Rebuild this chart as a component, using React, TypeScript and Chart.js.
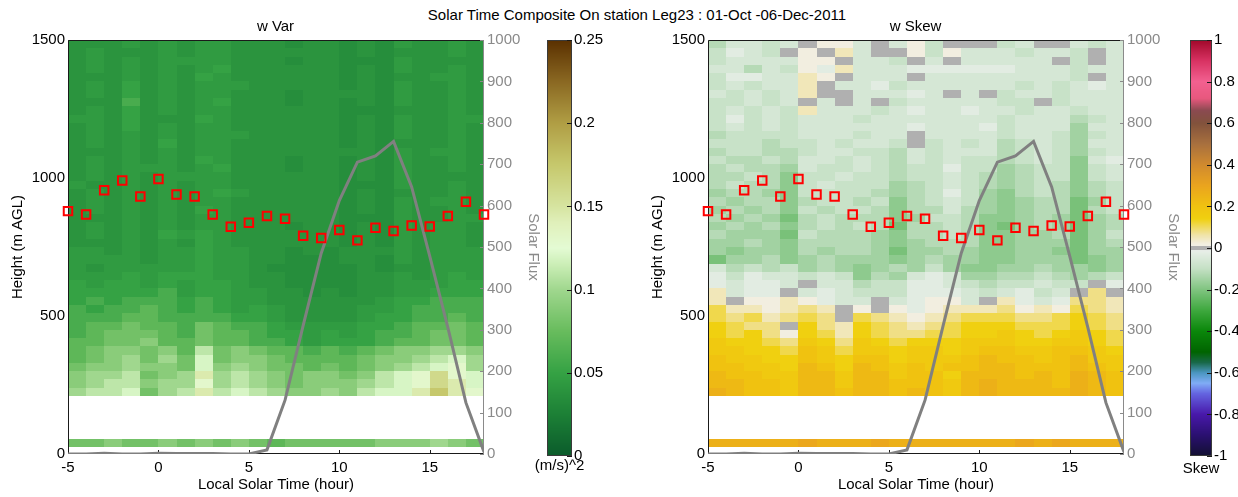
import React, { useEffect, useRef } from 'react';
import { Chart, registerables } from 'chart.js';

Chart.register(...registerables);

// ---------------- data ----------------
const hours = [-5, -4, -3, -2, -1, 0, 1, 2, 3, 4, 5, 6, 7, 8, 9, 10, 11, 12, 13, 14, 15, 16, 17, 18];
const solarFlux = [0, 0, 2, 0, 0, 2, 1, 1, 1, 0, 0, 10, 130, 310, 485, 612, 705, 720, 755, 645, 478, 306, 124, 5];
const mixingHeight = [880, 868, 956, 991, 933, 996, 940, 933, 868, 823, 838, 862, 852, 791, 783, 812, 774, 820, 808, 828, 824, 862, 914, 868];

const heightEdges = [210, 240, 270, 300, 330, 360, 390, 420, 450, 480, 510, 540, 570, 600, 630, 660, 690, 720, 750, 780, 810, 840, 870, 900, 930, 960, 990, 1020, 1050, 1080, 1110, 1140, 1170, 1200, 1230, 1260, 1290, 1320, 1350, 1380, 1410, 1440, 1470, 1500];
const surfaceBand = [25, 53];

const xTicks = [-5, 0, 5, 10, 15];
const heightTicks = [0, 500, 1000, 1500];
const fluxTicks = [0, 100, 200, 300, 400, 500, 600, 700, 800, 900, 1000];
const varTicks = [0, 0.05, 0.1, 0.15, 0.2, 0.25];
const skewTicks = [-1, -0.8, -0.6, -0.4, -0.2, 0, 0.2, 0.4, 0.6, 0.8, 1];

// w variance, (m/s)^2 : one character per cell, codes below
const wVarCodes: Record<string, number> = {
  '0': 0.030, '1': 0.035, '2': 0.040, '3': 0.045, '4': 0.050, '5': 0.060, '6': 0.070, '7': 0.080,
  '8': 0.090, '9': 0.100, a: 0.110, b: 0.120, c: 0.130, d: 0.145, e: 0.160, f: 0.175,
};
// rows listed from the top (1470-1500 m) down to the lowest gate (210-240 m)
const wVarRows = [
  '22232323322212212132232',
  '23222323322222212122232',
  '23232333322212211132222',
  '23232323422222212132232',
  '22232324322222212122332',
  '23242323332222212132232',
  '23242323322212222132232',
  '22252323422212212132232',
  '23242323322222211122232',
  '33242224322222212132233',
  '23242323322222212132232',
  '23232323332222212132232',
  '23232423322222212122232',
  '22232323322222222132332',
  '23232324322212212132232',
  '23233323422212212132232',
  '23232333322222212132222',
  '32232323322222211132232',
  '23232323432222212122232',
  '23232323322222212132332',
  '23232324322222212132232',
  '22232323322222211132233',
  '23232323322212212132332',
  '23232434322222212132332',
  '22232324322222212132332',
  '33232334332212122232333',
  '33332334332211122132333',
  '32333334332111112122333',
  '33343444332211112232343',
  '43443434432211112233344',
  '44444534433221212233444',
  '45455545433222222344555',
  '54556545434322223345555',
  '55566555544322223445565',
  '56676657655433334456676',
  '56777657665443434556776',
  '66778667665543444566776',
  '6788786a787665656788998',
  '6789797b788766667889ab9',
  '7889887b89877676789abc9',
  '899a789d9a9878878abcecb',
  '89aa899c9a9878889abcedb',
  '9aab79adaba98898abbdfdc',
];
const wVarSurface = '77877878787677777888987';

// w skewness : one character per cell, codes below ('g' = 0)
const wSkewCodes: Record<string, number> = {
  '0': -0.03, '1': -0.06, '2': -0.09, '3': -0.12, '4': -0.15, '5': -0.18, '6': -0.21, '7': -0.24,
  g: 0, a: 0.02, b: 0.05, c: 0.08, d: 0.11, e: 0.14, f: 0.17, h: 0.20, i: 0.23, j: 0.26, k: 0.29,
};
const wSkewRows = [
  '31121gaa1g1a2ggg21gg121',
  '2012gagb1gga2a1112112g1',
  '21111aag112g1g11111g2g1',
  '11312a0b111000000111211',
  '20011bag111g111111112g1',
  '21211bg1102111111212101',
  '12121bgg11101g1g2112111',
  '22121g1g1g21111122g2111',
  '21212b11121011011211211',
  '20212111211111112111321',
  '21212111111011102111411',
  '32222111211g11112112421',
  '22232212112g21213212411',
  '32233211223121113212421',
  '23323112123121223212510',
  '32334122123220224322521',
  '33235221223221234322521',
  '32335212224321234323532',
  '43345222234320245323532',
  '34335322325321245433642',
  '43435232235331345433632',
  '34346323335422355434643',
  '43435323236332356434643',
  '34446233345332355443642',
  '44345333345433355444643',
  '45445343346443455445644',
  '64435434445434455444654',
  '13232434543424554434454',
  '02011212534101443323432',
  '01001g113220012322122g0',
  'b100g101222000121021gcg',
  'bgaaba011g10aa1gb010ccb',
  'dbbabcbgaga0abbbcabadcb',
  'dcdbcdcgdcbabcdddccdedc',
  'edccgecbedcbcdeeedddedc',
  'edecaedbedccddeefedefed',
  'feedcfecfedeeefffeeffed',
  'ffeedhfdffeffefhhffhhfe',
  'hffeehfehhefffhihhfhiff',
  'hhffeiheihfhfhhiihhhihf',
  'ihhffiifiifhheiiihihjih',
  'iihhfiifiihhhfijiiihjih',
  'jihhfiihiihihfijiiiijih',
];
const wSkewSurface = 'jjjjjkjjjkjjjjjjjkjkjjj';

// ---------------- styles ----------------
const FONT = '"Liberation Sans", Arial, Helvetica, sans-serif';
const varColormap: [number, string][] = [
  [0, '#0b5b2b'], [0.025, '#1c8036'], [0.05, '#35a244'], [0.075, '#68bc5d'], [0.1, '#a0d78e'],
  [0.115, '#cbeeb6'], [0.125, '#e4fbd4'], [0.14, '#e0f0bb'], [0.15, '#d6e4a0'], [0.175, '#c6c86c'],
  [0.2, '#b09e44'], [0.225, '#8a6822'], [0.25, '#5a3000'],
];
const skewColormap: [number, string][] = [
  [-1, '#121032'], [-0.9, '#2a1070'], [-0.8, '#4818aa'], [-0.7, '#6464e0'], [-0.65, '#80acf6'],
  [-0.6, '#4a96c0'], [-0.55, '#186848'], [-0.5, '#006400'], [-0.4, '#0a870a'], [-0.3, '#3ea83e'],
  [-0.2, '#80c480'], [-0.1, '#c4e0c4'], [-0.02, '#e6eee6'], [-0.009, '#e8ece8'], [-0.008, '#b0b0b0'],
  [0.008, '#b0b0b0'], [0.009, '#f2f0e4'], [0.02, '#f2eee0'], [0.06, '#f0e4ac'], [0.1, '#f0da60'],
  [0.14, '#f0d010'], [0.2, '#f0c210'], [0.3, '#eaa41e'], [0.4, '#d08a2e'], [0.5, '#a8703e'],
  [0.6, '#82523c'], [0.66, '#8a4a50'], [0.72, '#e8587e'], [0.8, '#f26090'], [0.9, '#d83262'], [1, '#a0082a'],
];

function hexToRgb(h: string): number[] {
  const n = parseInt(h.slice(1), 16);
  return [(n >> 16) & 255, (n >> 8) & 255, n & 255];
}
function colorAt(v: number, cmap: [number, string][]): string {
  if (v <= cmap[0][0]) return cmap[0][1];
  if (v >= cmap[cmap.length - 1][0]) return cmap[cmap.length - 1][1];
  for (let i = 1; i < cmap.length; i++) {
    if (v <= cmap[i][0]) {
      const [v0, c0] = cmap[i - 1];
      const [v1, c1] = cmap[i];
      const t = (v - v0) / (v1 - v0);
      const a = hexToRgb(c0), b = hexToRgb(c1);
      const r = a.map((x, k) => Math.round(x + (b[k] - x) * t));
      return `rgb(${r[0]},${r[1]},${r[2]})`;
    }
  }
  return cmap[cmap.length - 1][1];
}

const fmt = (v: number | string) => String(Math.round(Number(v) * 1000) / 1000);

function heatmapPlugin(rows: string[], surface: string, codes: Record<string, number>, cmap: [number, string][]) {
  return {
    id: 'heatmap',
    beforeDatasetsDraw(chart: any) {
      const { ctx, chartArea, scales } = chart;
      const x = scales.x, y = scales.y;
      ctx.save();
      ctx.beginPath();
      ctx.rect(chartArea.left, chartArea.top, chartArea.width, chartArea.height);
      ctx.clip();
      const drawRow = (row: string, lo: number, hi: number) => {
        const yTop = Math.round(y.getPixelForValue(hi));
        const yBot = Math.round(y.getPixelForValue(lo));
        for (let c = 0; c < row.length; c++) {
          const xl = Math.round(x.getPixelForValue(hours[c]));
          const xr = Math.round(x.getPixelForValue(hours[c + 1]));
          ctx.fillStyle = colorAt(codes[row[c]], cmap);
          ctx.fillRect(xl, yTop, xr - xl, yBot - yTop);
        }
      };
      const n = rows.length;
      rows.forEach((row, i) => drawRow(row, heightEdges[n - 1 - i], heightEdges[n - i]));
      drawRow(surface, surfaceBand[0], surfaceBand[1]);
      ctx.restore();

      // frame and inward ticks
      const { left, right, top, bottom } = chartArea;
      ctx.save();
      ctx.lineWidth = 1;
      ctx.strokeStyle = '#1a1a1a';
      ctx.beginPath();
      ctx.moveTo(right, top + 0.5);
      ctx.lineTo(left + 0.5, top + 0.5);
      ctx.lineTo(left + 0.5, bottom - 0.5);
      ctx.lineTo(right, bottom - 0.5);
      ctx.stroke();
      xTicks.forEach((t) => {
        const px = Math.round(x.getPixelForValue(t)) + 0.5;
        ctx.beginPath();
        ctx.moveTo(px, bottom);
        ctx.lineTo(px, bottom - 4);
        ctx.stroke();
      });
      ctx.strokeStyle = '#8a8a8a';
      ctx.beginPath();
      ctx.moveTo(right - 0.5, top);
      ctx.lineTo(right - 0.5, bottom);
      ctx.stroke();
      const y2 = scales.y2;
      fluxTicks.forEach((t) => {
        const py = Math.round(y2.getPixelForValue(t)) + 0.5;
        ctx.beginPath();
        ctx.moveTo(right, py);
        ctx.lineTo(right - 4, py);
        ctx.stroke();
      });
      ctx.restore();
    },
  };
}

function colorbarPlugin(cmap: [number, string][], ticks: number[]) {
  return {
    id: 'colorbar',
    beforeDatasetsDraw(chart: any) {
      const { ctx, chartArea, scales } = chart;
      const y = scales.y;
      const { left, right, top, bottom } = chartArea;
      ctx.save();
      for (let py = Math.floor(top); py < Math.ceil(bottom); py++) {
        ctx.fillStyle = colorAt(y.getValueForPixel(py + 0.5), cmap);
        ctx.fillRect(left, py, right - left, 1);
      }
      ctx.strokeStyle = '#3a3a3a';
      ctx.lineWidth = 1;
      ctx.strokeRect(left + 0.5, top + 0.5, right - left - 1, bottom - top - 1);
      ctx.strokeStyle = '#1a1a1a';
      ticks.forEach((t) => {
        const py = Math.round(y.getPixelForValue(t)) + 0.5;
        ctx.beginPath();
        ctx.moveTo(right, py);
        ctx.lineTo(right - 5, py);
        ctx.stroke();
      });
      ctx.restore();
    },
  };
}

function setTicks(values: number[]) {
  return (scale: any) => {
    scale.ticks = values.map((v) => ({ value: v }));
  };
}

function panelConfig(title: string, rows: string[], surface: string, codes: Record<string, number>, cmap: [number, string][]): any {
  const font = { family: FONT, size: 15, weight: 'normal' };
  return {
    type: 'scatter',
    data: {
      datasets: [
        {
          label: 'Mixing height',
          data: hours.map((h, i) => ({ x: h, y: mixingHeight[i] })),
          yAxisID: 'y',
          showLine: false,
          pointStyle: 'rect',
          pointRadius: 6,
          pointBorderColor: '#ff0000',
          pointBackgroundColor: 'rgba(0,0,0,0)',
          pointBorderWidth: 2,
          clip: false,
        },
        {
          label: 'Solar Flux',
          data: hours.map((h, i) => ({ x: h, y: solarFlux[i] })),
          yAxisID: 'y2',
          showLine: true,
          borderColor: '#808080',
          borderWidth: 3,
          pointRadius: 0,
          tension: 0,
        },
      ],
    },
    options: {
      animation: false,
      responsive: false,
      events: [],
      layout: { padding: { left: 8.5, right: 57.5, top: 0, bottom: 2.7 } },
      plugins: {
        legend: { display: false },
        tooltip: { enabled: false },
        title: { display: true, text: title, color: '#000', font, padding: { top: 17.5, bottom: 4.5 } },
      },
      scales: {
        x: {
          type: 'linear', min: -5, max: 18,
          afterBuildTicks: setTicks(xTicks),
          grid: { display: false, drawTicks: false },
          border: { display: false },
          ticks: { color: '#000', font, padding: 5, maxRotation: 0, autoSkip: false, callback: fmt },
          title: { display: true, text: 'Local Solar Time (hour)', color: '#000', font, padding: 0 },
          afterFit: (s: any) => { s.height = 40.3; },
        },
        y: {
          type: 'linear', position: 'left', min: 0, max: 1500,
          afterBuildTicks: setTicks(heightTicks),
          grid: { display: false, drawTicks: false },
          border: { display: false },
          ticks: { color: '#000', font, padding: 3, callback: fmt },
          title: { display: true, text: 'Height (m AGL)', color: '#000', font, padding: 0 },
          afterFit: (s: any) => { s.width = 59.5; },
        },
        y2: {
          type: 'linear', position: 'right', min: 0, max: 1000,
          afterBuildTicks: setTicks(fluxTicks),
          grid: { display: false, drawTicks: false },
          border: { display: false },
          ticks: { color: '#8a8a8a', font, padding: 3, callback: fmt },
          title: { display: true, text: 'Solar Flux', color: '#8a8a8a', font, padding: 0 },
          afterFit: (s: any) => { s.width = 58.5; },
        },
      },
    },
    plugins: [heatmapPlugin(rows, surface, codes, cmap)],
  };
}

// side = width of the invisible left box and of the right tick box, so the bottom label centres on the bar
function colorbarConfig(label: string, min: number, max: number, ticks: number[], cmap: [number, string][], side: number, labelGap: number): any {
  const font = { family: FONT, size: 15, weight: 'normal' };
  return {
    type: 'scatter',
    data: { datasets: [] },
    options: {
      animation: false,
      responsive: false,
      events: [],
      layout: { padding: { left: 0, right: 0, top: 40, bottom: 23 - labelGap } },
      plugins: {
        legend: { display: false },
        tooltip: { enabled: false },
        title: { display: true, position: 'bottom', text: label, color: '#000', font, padding: { top: labelGap, bottom: 0 } },
      },
      scales: {
        x: { type: 'linear', min: 0, max: 1, display: false },
        yl: {
          type: 'linear', position: 'left', min, max,
          grid: { display: false, drawTicks: false },
          border: { display: false },
          ticks: { display: false },
          afterFit: (s: any) => { s.width = side; },
        },
        y: {
          type: 'linear', position: 'right', min, max,
          afterBuildTicks: setTicks(ticks),
          grid: { display: false, drawTicks: false },
          border: { display: false },
          ticks: { color: '#000', font, padding: 2, callback: fmt },
          afterFit: (s: any) => { s.width = side; },
        },
      },
    },
    plugins: [colorbarPlugin(cmap, ticks)],
  };
}

export default function App() {
  const c1 = useRef<HTMLCanvasElement>(null);
  const c2 = useRef<HTMLCanvasElement>(null);
  const cb1 = useRef<HTMLCanvasElement>(null);
  const cb2 = useRef<HTMLCanvasElement>(null);

  useEffect(() => {
    const charts = [
      new Chart(c1.current as HTMLCanvasElement, panelConfig('w Var', wVarRows, wVarSurface, wVarCodes, varColormap)),
      new Chart(c2.current as HTMLCanvasElement, panelConfig('w Skew', wSkewRows, wSkewSurface, wSkewCodes, skewColormap)),
      new Chart(cb1.current as HTMLCanvasElement, colorbarConfig('(m/s)^2', 0, 0.25, varTicks, varColormap, 47, 1)),
      new Chart(cb2.current as HTMLCanvasElement, colorbarConfig('Skew', -1, 1, skewTicks, skewColormap, 37, 4)),
    ];
    return () => charts.forEach((c) => c.destroy());
  }, []);

  const abs = (left: number, width: number): React.CSSProperties => ({
    position: 'absolute', left, top: 0, width, height: 497,
  });

  return (
    <div style={{ position: 'absolute', left: 0, top: 0, width: 1238, height: 497, background: '#fff', overflow: 'hidden' }}>
      <div
        style={{
          position: 'absolute', left: 0, top: 6, width: 1274, textAlign: 'center',
          font: `15px ${FONT}`, lineHeight: '18px', color: '#000', whiteSpace: 'nowrap',
        }}
      >
        Solar Time Composite On station Leg23 : 01-Oct -06-Dec-2011
      </div>
      <canvas ref={c1} width={600} height={497} style={abs(0, 600)} />
      <canvas ref={c2} width={600} height={497} style={abs(640, 600)} />
      <canvas ref={cb1} width={119} height={497} style={abs(500, 119)} />
      <canvas ref={cb2} width={96} height={497} style={abs(1153, 96)} />
    </div>
  );
}
